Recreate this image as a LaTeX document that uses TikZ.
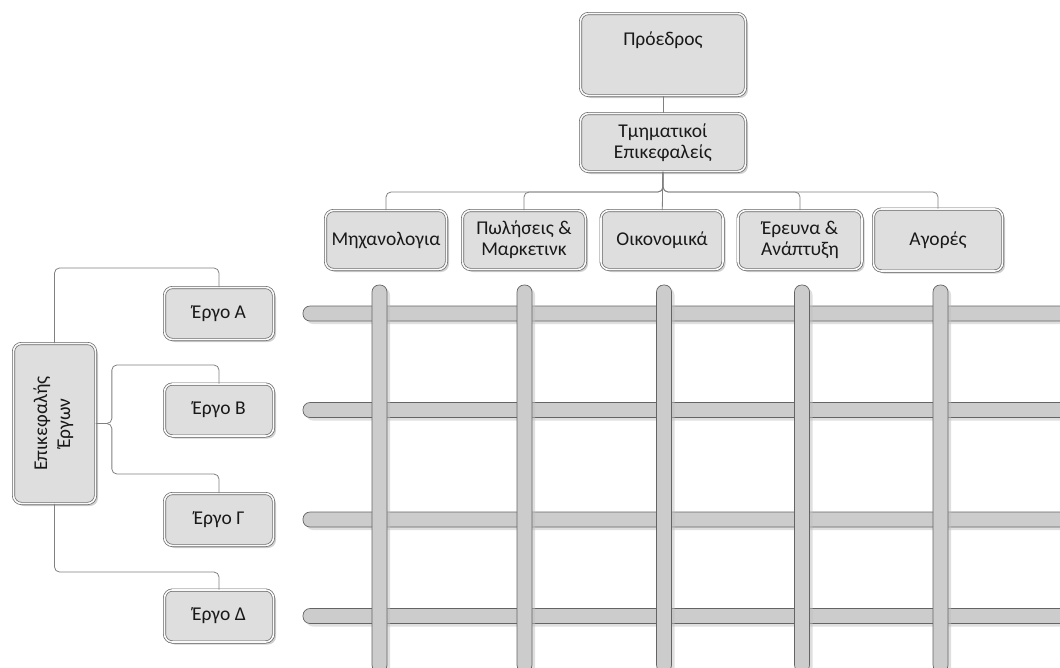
\documentclass[tikz,border=0pt]{standalone}
\usepackage{fontspec}
\setmainfont{Carlito}
\usetikzlibrary{shapes, arrows}
\usetikzlibrary{positioning, shadows}
\definecolor{boxfill}{HTML}{DEDEDE}
\definecolor{barfill}{HTML}{CCCCCC}
\definecolor{frame}{HTML}{646464}
\definecolor{wire}{HTML}{808080}

\begin{document}
\begin{tikzpicture}[x=1pt, y=-1pt, node distance=138pt,
  unit/.style={draw=frame, line width=0.7pt, double=white!85!boxfill, double distance=1.6pt,
    fill=boxfill, rounded corners=8pt, inner sep=0pt, align=center, text=black!90,
    font=\fontsize{19.5}{21}\selectfont,
    drop shadow={shadow xshift=2.5pt, shadow yshift=-2.5pt, fill=black!30, opacity=0.6}},
  bar/.style={draw=frame, line width=0.7pt, fill=barfill, rounded corners=7pt,
    drop shadow={shadow xshift=3pt, shadow yshift=-3pt, fill=black!25, opacity=0.5}},
  wire/.style={draw=wire, line width=0.8pt, rounded corners=5pt}]
\useasboundingbox (0,0) rectangle (1060,667);

% matrix bars
\draw[bar] (303,306) rectangle (1075,321);
\draw[bar] (303,402.5) rectangle (1075,417.5);
\draw[bar] (303,512) rectangle (1075,527);
\draw[bar] (303,608.5) rectangle (1075,623.5);
\draw[bar] (372,285) rectangle (387,672);
\draw[bar] (517,285) rectangle (532,672);
\draw[bar] (656.5,285) rectangle (671.5,672);
\draw[bar] (794.5,285) rectangle (809.5,672);
\draw[bar] (933,285) rectangle (948,672);

% top of the chart
\node[unit, minimum width=165, minimum height=82, text height=14pt, text depth=32pt] (pres) at (663,54.5) {Πρόεδρος};
\node[unit, minimum width=165, minimum height=58] (heads) at (663,142.5) {Τμηματικοί\\Επικεφαλείς};
\node[unit, minimum width=121, minimum height=59] (mech) at (386,240) {Μηχανολογια};
\node[unit, minimum width=123, minimum height=59] (sales) [right of=mech] {Πωλήσεις \&\\Μαρκετινκ};
\node[unit, minimum width=122, minimum height=59] (fin) [right of=sales] {Οικονομικά};
\node[unit, minimum width=124, minimum height=59] (rnd) [right of=fin] {Έρευνα \&\\Ανάπτυξη};
\node[unit, minimum width=129, minimum height=62] (mkt) [right of=rnd] {Αγορές};

% project side
\node[unit, minimum width=82, minimum height=160] (lead) at (54.5,423.5)
  {\rotatebox{90}{\begin{tabular}{@{}c@{}}Επικεφαλής\\[2pt]Έργων\end{tabular}}};
\node[unit, minimum width=109, minimum height=52] (prjA) at (219,313.5) {Έργο Α};
\node[unit, minimum width=109, minimum height=52] (prjB) at (219,410) {Έργο Β};
\node[unit, minimum width=109, minimum height=52] (prjC) at (219,519.5) {Έργο Γ};
\node[unit, minimum width=109, minimum height=52] (prjD) at (219,616) {Έργο Δ};

% connectors
\draw[wire] (pres) -- (heads);
\draw[wire] (heads) -- (fin);
\draw[wire] (heads.south) -- (heads.south |- 0,192) -| (mech.north);
\draw[wire] (heads.south) -- (heads.south |- 0,192) -| (sales.north);
\draw[wire] (heads.south) -- (heads.south |- 0,192) -| (rnd.north);
\draw[wire] (heads.south) -- (heads.south |- 0,192) -| (mkt.north);
\draw[wire] (lead.north) |- (prjA.north |- 0,268) -- (prjA.north);
\draw[wire] (lead.east) -- ++(16,0) |- (prjB.north |- 0,365) -- (prjB.north);
\draw[wire] (lead.east) -- ++(16,0) |- (prjC.north |- 0,474) -- (prjC.north);
\draw[wire] (lead.south) |- (prjD.north |- 0,572) -- (prjD.north);
\end{tikzpicture}
\end{document}
